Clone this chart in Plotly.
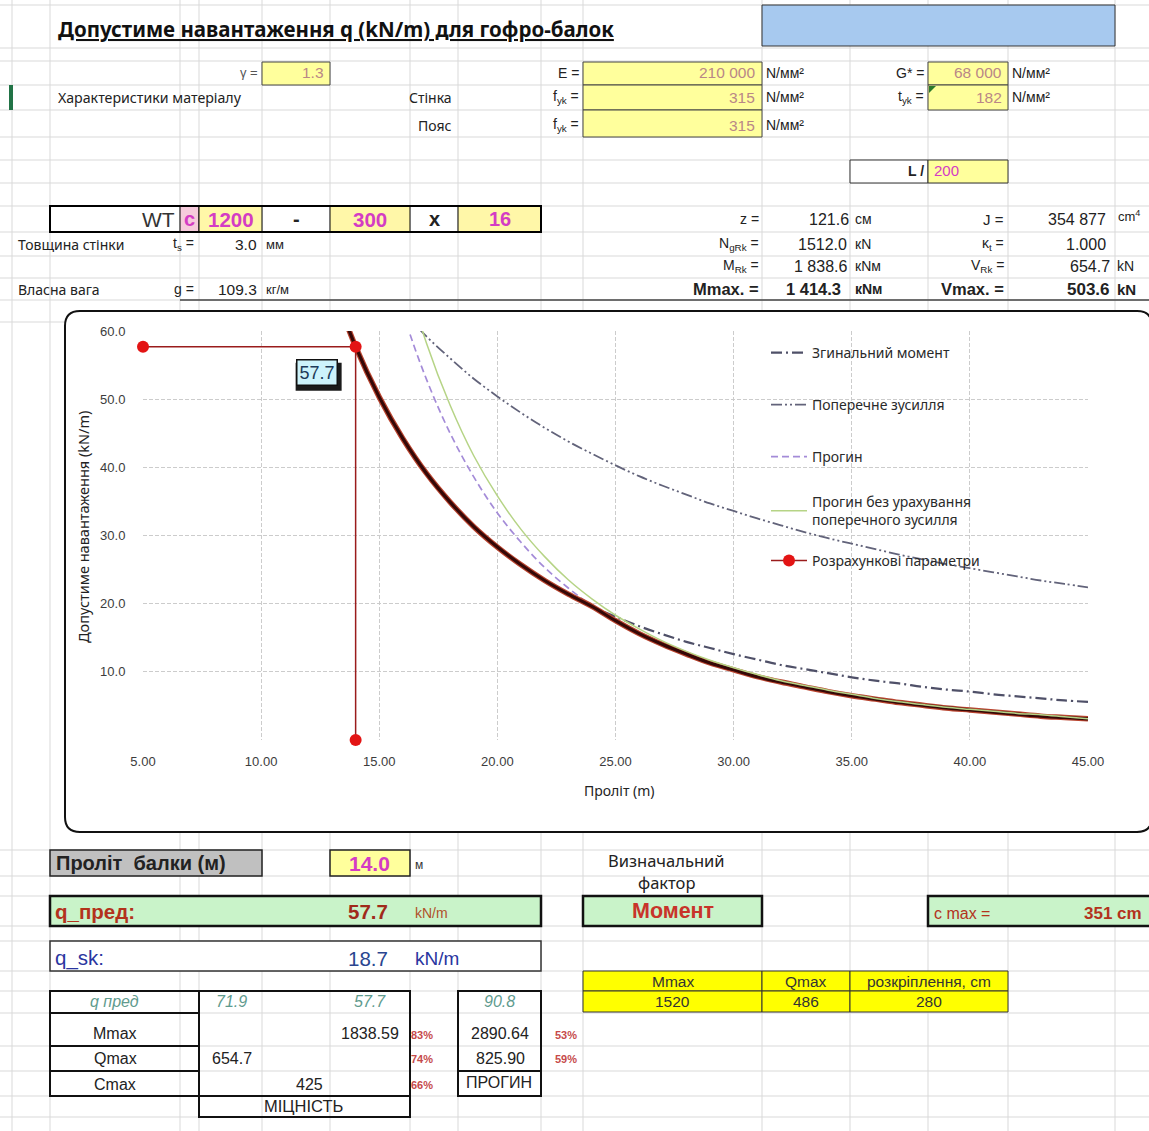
import plotly.graph_objects as go

# ---------------- chart data: permissible load q (kN/m) vs span L (m) ----------------
span_shear = [16, 17, 18, 19, 20, 21, 22, 23, 24, 25, 26, 27, 28, 29, 30,
              31, 32, 33, 34, 35, 36, 37, 38, 39, 40, 41, 42, 43, 44, 45]
q_shear = [62.9, 59.2, 56.0, 53.0, 50.4, 48.0, 45.8, 43.8, 42.0, 40.3, 38.7, 37.3, 36.0, 34.7, 33.6,
           32.5, 31.5, 30.5, 29.6, 28.8, 28.0, 27.2, 26.5, 25.8, 25.2, 24.6, 24.0, 23.4, 22.9, 22.4]

span_moment = [13, 14, 15, 16, 17, 18, 19, 20, 21, 22, 23, 24, 25, 26, 27, 28, 29,
               30, 31, 32, 33, 34, 35, 36, 37, 38, 39, 40, 41, 42, 43, 44, 45]
q_moment = [66.9, 57.7, 50.3, 44.2, 39.1, 34.9, 31.3, 28.3, 25.7, 23.4, 21.4, 19.6, 18.1, 16.7, 15.5, 14.4, 13.5,
            12.6, 11.8, 11.0, 10.4, 9.8, 9.2, 8.7, 8.3, 7.8, 7.4, 7.1, 6.7, 6.4, 6.1, 5.8, 5.6]

span_defl = [15, 16, 17, 18, 19, 20, 21, 22, 23, 24, 25, 26, 27, 28, 29, 30,
             31, 32, 33, 34, 35, 36, 37, 38, 39, 40, 41, 42, 43, 44, 45]
q_defl = [75.0, 62.7, 52.9, 45.0, 38.6, 33.3, 29.0, 25.3, 22.3, 19.7, 17.5, 15.6, 14.0, 12.6, 11.3, 10.3,
          9.3, 8.5, 7.8, 7.1, 6.5, 6.0, 5.5, 5.1, 4.7, 4.4, 4.1, 3.8, 3.5, 3.3, 3.1]

span_defl_b = [16, 17, 18, 19, 20, 21, 22, 23, 24, 25, 26, 27, 28, 29, 30,
               31, 32, 33, 34, 35, 36, 37, 38, 39, 40, 41, 42, 43, 44, 45]
q_defl_b = [69.9, 58.2, 49.1, 41.7, 35.8, 30.9, 26.9, 23.5, 20.7, 18.3, 16.3, 14.5, 13.0, 11.7, 10.6,
            9.6, 8.7, 8.0, 7.3, 6.7, 6.1, 5.6, 5.2, 4.8, 4.5, 4.2, 3.9, 3.7, 3.4, 3.1]

span_env = [13, 14, 15, 16, 17, 18, 19, 20, 21, 22, 23, 24, 25, 26, 27, 28, 29,
            30, 31, 32, 33, 34, 35, 36, 37, 38, 39, 40, 41, 42, 43, 44, 45]
q_env = [66.9, 57.7, 50.3, 44.2, 39.1, 34.9, 31.3, 28.3, 25.7, 23.4, 21.4, 19.6, 17.5, 15.6, 14.0, 12.6, 11.3,
         10.3, 9.3, 8.5, 7.8, 7.1, 6.5, 6.0, 5.5, 5.1, 4.7, 4.4, 4.1, 3.8, 3.5, 3.3, 3.1]

design_span = [5.0, 14.0, 14.0]
design_q = [57.7, 57.7, 0.0]
q_pred = 57.7
beam_span = 14.0

x_ticks = [5, 10, 15, 20, 25, 30, 35, 40, 45]
x_grid = [10, 15, 20, 25, 30, 35, 40, 45]
y_ticks = [10, 20, 30, 40, 50, 60]

legend_names = ["Згинальний момент", "Поперечне зусилля", "Прогин",
                "Прогин без урахування<br>поперечного зусилля", "Розрахункові параметри"]

# ---------------- page geometry helpers (pixel -> paper) ----------------
W, H = 1149, 1131
ARIAL = "Liberation Sans"
CAL = "Noto Sans"


def X(px):
    return px / W


def Y(py):
    return 1 - py / H


shapes = []
annotations = []


def rect(x0, y0, x1, y1, fill=None, line="#000", lw=1.0):
    shapes.append(dict(type="rect", xref="paper", yref="paper", layer="below",
                       x0=X(x0), x1=X(x1), y0=Y(y1), y1=Y(y0),
                       fillcolor=fill or "rgba(0,0,0,0)",
                       line=dict(color=line, width=lw)))


def seg(x0, y0, x1, y1, color="#d6d6d6", lw=1.0):
    shapes.append(dict(type="line", xref="paper", yref="paper", layer="below",
                       x0=X(x0), x1=X(x1), y0=Y(y0), y1=Y(y1),
                       line=dict(color=color, width=lw)))


def txt(x, y, s, size=13, color="#222", anchor="left", family=ARIAL, bold=False, italic=False):
    if bold:
        s = f"<b>{s}</b>"
    if italic:
        s = f"<i>{s}</i>"
    annotations.append(dict(xref="paper", yref="paper", x=X(x), y=Y(y), text=s,
                            showarrow=False, xanchor=anchor, yanchor="middle",
                            borderpad=0, font=dict(size=size, color=color, family=family)))


# ---------------- spreadsheet cell grid ----------------
col_edges = [12, 50, 180, 199, 262, 330, 410, 458, 541, 583, 762, 850, 928, 1008, 1115]
row_edges = [5, 48, 61, 85, 110, 137, 160, 183, 206, 232, 256, 278, 300, 322,
             850, 876, 896, 926, 941, 971, 991, 1013, 1046, 1071, 1096, 1117]
for cx in col_edges:
    seg(cx, 0, cx, H, "#d9d9d9", 1)
for ry in row_edges:
    seg(0, ry, W, ry, "#d9d9d9", 1)

# row-header selection marker
rect(9, 85, 13, 110, fill="#217346", line="#217346", lw=0)

# title and blue header cell
txt(57, 29, "<u>Допустиме навантаження q (kN/m) для гофро-балок</u>", 20.5, "#111", family=CAL, bold=True)
rect(762, 5, 1115, 46, fill="#a7c9ef", line="#333", lw=1)

YEL = "#ffff9c"
VAL = "#b98787"
MAG = "#d43cc4"
VS = 15.5   # value font size in the property block

# material block
txt(259, 73, "γ =", 13, "#555", "right")
rect(262, 62, 330, 85, fill=YEL, line="#444", lw=1)
txt(325, 73, "1.3", VS, VAL, "right")

txt(57, 97, "Характеристики матеріалу", 14.2, "#222", family=CAL)
txt(453, 97, "Стінка", 14, "#222", "right", family=CAL)
txt(453, 125, "Пояс", 14, "#222", "right", family=CAL)

for yc, y0, y1, lab, val in [(73, 62, 85, "E =", "210 000"),
                             (97, 85, 110, "f<sub>yk</sub> =", "315"),
                             (125, 110, 137, "f<sub>yk</sub> =", "315")]:
    txt(580, yc, lab, 14, "#222", "right")
    rect(583, y0, 762, y1, fill=YEL, line="#444", lw=1)
    txt(756, yc, val, VS, VAL, "right")
    txt(765, yc, "N/мм²", 14, "#222")

for yc, y0, y1, lab, val in [(73, 62, 85, "G* =", "68 000"),
                             (97, 85, 110, "t<sub>yk</sub> =", "182")]:
    txt(925, yc, lab, 14, "#222", "right")
    rect(928, y0, 1008, y1, fill=YEL, line="#444", lw=1)
    txt(1003, yc, val, VS, VAL, "right")
    txt(1011, yc, "N/мм²", 14, "#222")
shapes.append(dict(type="path", xref="paper", yref="paper", layer="below",
                   path=f"M{X(929)},{Y(86)} L{X(936)},{Y(86)} L{X(929)},{Y(93)} Z",
                   fillcolor="#2a7a2a", line=dict(width=0)))

rect(850, 160, 928, 183, fill="white", line="#333", lw=1)
txt(925, 171, "L /", 14, "#222", "right", bold=True)
rect(928, 160, 1008, 183, fill=YEL, line="#333", lw=1)
txt(933, 171, "200", 15, MAG)

# section designation row
rect(180, 206, 199, 232, fill="#f6cbdc", line="#000", lw=1)
rect(199, 206, 262, 232, fill="#fff7a8", line="#000", lw=1)
rect(330, 206, 410, 232, fill="#fff7a8", line="#000", lw=1)
rect(458, 206, 541, 232, fill="#fff7a8", line="#000", lw=1)
rect(50, 206, 541, 232, line="#000", lw=2)
txt(176, 219, "WT", 21, "#333", "right")
txt(189, 219, "c", 20, MAG, "center", bold=True)
txt(231, 219, "1200", 20.5, MAG, "center", bold=True)
txt(296, 219, "-", 20, "#222", "center", bold=True)
txt(370, 219, "300", 20.5, MAG, "center", bold=True)
txt(434, 219, "x", 20, "#222", "center", bold=True)
txt(500, 219, "16", 20, MAG, "center", bold=True)

txt(17, 244, "Товщина стінки", 14, "#222", family=CAL)
txt(195, 244, "t<sub>s</sub> =", 14, "#222", "right")
txt(258, 244, "3.0", VS, "#222", "right")
txt(265, 244, "мм", 13, "#222")
txt(17, 289, "Власна вага", 14, "#222", family=CAL)
txt(195, 289, "g =", 14, "#222", "right")
txt(258, 289, "109.3", VS, "#222", "right")
txt(265, 289, "кг/м", 13, "#222")
seg(180, 300, 1149, 300, "#444", 1.5)

# section properties
txt(760, 219, "z =", 14, "#222", "right")
txt(850, 219, "121.6", 16, "#222", "right")
txt(854, 219, "см", 14, "#222")
txt(1005, 219, "J =", 15, "#222", "right")
txt(1107, 219, "354 877", 16, "#222", "right")
txt(1117, 216, "cm<sup>4</sup>", 13, "#222")
txt(760, 244, "N<sub>gRk</sub> =", 14, "#222", "right")
txt(848, 244, "1512.0", 16, "#222", "right")
txt(854, 244, "кN", 14, "#222")
txt(1005, 244, "κ<sub>t</sub> =", 14, "#222", "right")
txt(1107, 244, "1.000", 16, "#222", "right")
txt(760, 266, "M<sub>Rk</sub> =", 14, "#222", "right")
txt(848, 266, "1 838.6", 16, "#222", "right")
txt(854, 266, "кNм", 14, "#222")
txt(1005, 266, "V<sub>Rk</sub> =", 14, "#222", "right")
txt(1111, 266, "654.7", 16, "#222", "right")
txt(1116, 266, "kN", 14, "#222")
txt(760, 289, "Mmax. =", 16.5, "#222", "right", bold=True)
txt(842, 289, "1 414.3", 16.5, "#222", "right", bold=True)
txt(854, 289, "кNм", 14, "#222", bold=True)
txt(1005, 289, "Vmax. =", 16.5, "#222", "right", bold=True)
txt(1111, 289, "503.6", 17, "#222", "right", bold=True)
txt(1116, 289, "kN", 15, "#222", bold=True)

# ---------------- chart frame ----------------
def P(x, y):
    return f"{X(x):.5f},{Y(y):.5f}"


frame = (f"M{P(80, 311)} L{P(1137, 311)} Q{P(1152, 311)} {P(1152, 326)} L{P(1152, 817)} "
         f"Q{P(1152, 832)} {P(1137, 832)} L{P(80, 832)} Q{P(65, 832)} {P(65, 817)} "
         f"L{P(65, 326)} Q{P(65, 311)} {P(80, 311)} Z")
shapes.append(dict(type="path", xref="paper", yref="paper", layer="below", path=frame,
                   fillcolor="white", line=dict(color="#111", width=2)))

# ---------------- lower result block ----------------
rect(50, 850, 262, 876, fill="#c0c0c0", line="#222", lw=1.5)
txt(55, 863, "Проліт  балки (м)", 20, "#222", bold=True)
rect(330, 850, 410, 876, fill=YEL, line="#222", lw=1.5)
txt(369, 863, f"{beam_span:.1f}", 21, MAG, "center", bold=True)
txt(414, 865, "м", 12, "#333")

txt(666, 860, "Визначальний", 16.5, "#222", "center", family=CAL)
txt(666, 882, "фактор", 16.5, "#222", "center", family=CAL)

GREEN = "#c9f3c9"
rect(50, 896, 541, 926, fill=GREEN, line="#111", lw=2.5)
txt(54, 911, "q_пред:", 20.5, "#b3321c", bold=True)
txt(389, 911, f"{q_pred:.1f}", 20.5, "#a02a1a", "right", bold=True)
txt(414, 913, "kN/m", 14, "#b0502a")
rect(583, 896, 762, 926, fill=GREEN, line="#111", lw=2.5)
txt(673, 911, "Момент", 21.5, "#c8342a", "center", bold=True)
rect(928, 896, 1160, 926, fill=GREEN, line="#111", lw=2.5)
txt(933, 913, "c max =", 16, "#b3321c")
txt(1143, 913, "351 cm", 17, "#b3321c", "right", bold=True)

rect(50, 941, 541, 971, fill="white", line="#333", lw=1.5)
txt(54, 958, "q_sk:", 20.5, "#2a36a0")
txt(389, 958, "18.7", 20.5, "#2a4690", "right")
txt(414, 958, "kN/m", 19, "#2a36a0")

# reinforcement table
for x0, x1, head, val in [(583, 762, "Mmax", "1520"), (762, 850, "Qmax", "486"),
                          (850, 1008, "розкріплення, cm", "280")]:
    rect(x0, 971, x1, 991, fill="#ffff00", line="#333", lw=1)
    rect(x0, 991, x1, 1012, fill="#ffff00", line="#333", lw=1)
    txt((x0 + x1) / 2, 981, head, 15.5, "#333", "center")
    txt((x0 + x1) / 2, 1001, val, 15.5, "#333", "center")

# strength / deflection table
rect(50, 991, 199, 1096, line="#111", lw=2)
for ry in (1013, 1046, 1071):
    seg(50, ry, 199, ry, "#111", 2)
rect(199, 991, 410, 1096, line="#111", lw=2)
rect(199, 1096, 410, 1117, line="#111", lw=2)
rect(458, 991, 541, 1096, line="#111", lw=2)
seg(458, 1071, 541, 1071, "#111", 2)

TEAL = "#5f9b8e"
TS = 16
txt(114, 1001, "q пред", TS, TEAL, "center", italic=True)
txt(231, 1001, "71.9", TS, TEAL, "center", italic=True)
txt(370, 1001, "57.7", TS, TEAL, "center", italic=True)
txt(499, 1001, "90.8", TS, TEAL, "center", italic=True)
txt(115, 1033, "Mmax", TS, "#222", "center")
txt(115, 1058, "Qmax", TS, "#222", "center")
txt(115, 1084, "Cmax", TS, "#222", "center")
txt(400, 1033, "1838.59", TS, "#222", "right")
txt(232, 1058, "654.7", TS, "#222", "center")
txt(309, 1084, "425", TS, "#222", "center")
txt(303, 1106, "МІЦНІСТЬ", 16.5, "#222", "center")
txt(500, 1033, "2890.64", TS, "#222", "center")
txt(500, 1058, "825.90", TS, "#222", "center")
txt(499, 1082, "ПРОГИН", TS, "#222", "center")
PCT = "#c64a4a"
for xx, yy, s in [(422, 1035, "83%"), (422, 1059, "74%"), (422, 1085, "66%"),
                  (566, 1035, "53%"), (566, 1059, "59%")]:
    txt(xx, yy, s, 11, PCT, "center", bold=True)

# ---------------- chart traces ----------------
fig = go.Figure()

fig.add_trace(go.Scatter(x=span_moment, y=q_moment, mode="lines", line_shape="spline",
                         name=legend_names[0], legend="legend",
                         line=dict(color="#4f5068", width=2.2, dash="11px,4px,2px,4px")))
fig.add_trace(go.Scatter(x=span_shear, y=q_shear, mode="lines", line_shape="spline",
                         name=legend_names[1], legend="legend2",
                         line=dict(color="#62637a", width=1.8, dash="11px,3px,2px,3px,2px,3px")))
fig.add_trace(go.Scatter(x=span_defl, y=q_defl, mode="lines", line_shape="spline",
                         name=legend_names[2], legend="legend3",
                         line=dict(color="#a48bd8", width=1.7, dash="7px,4px")))
# governing envelope (minimum of all criteria)
fig.add_trace(go.Scatter(x=span_env, y=q_env, mode="lines", line_shape="spline", showlegend=False,
                         hoverinfo="skip", line=dict(color="#b8432e", width=5.5)))
fig.add_trace(go.Scatter(x=span_env, y=q_env, mode="lines", line_shape="spline", showlegend=False,
                         line=dict(color="#350807", width=3.2)))
fig.add_trace(go.Scatter(x=span_defl_b, y=q_defl_b, mode="lines", line_shape="spline",
                         name=legend_names[3], legend="legend4",
                         line=dict(color="#b6d486", width=1.5)))
fig.add_trace(go.Scatter(x=design_span, y=design_q, mode="lines+markers", cliponaxis=False,
                         name=legend_names[4], legend="legend5",
                         line=dict(color="#9a1c1c", width=1.5),
                         marker=dict(color="#e31414", size=12)))
# overlay axis carrying the vertical grid
fig.add_trace(go.Scatter(x=[10], y=[10], xaxis="x2", mode="markers", showlegend=False,
                         marker=dict(opacity=0), hoverinfo="skip"))

# value label for the design point, with a drop shadow behind it
shapes.append(dict(type="rect", xref="x", yref="y", layer="above",
                   xsizemode="pixel", ysizemode="pixel",
                   xanchor=design_span[1], yanchor=design_q[1],
                   x0=-60, x1=-14, y0=-44, y1=-16,
                   fillcolor="#1b1b1b", line=dict(width=0)))
annotations.append(dict(x=design_span[1], y=design_q[1], xref="x", yref="y", text=f"{q_pred:.1f}",
                        showarrow=False, xanchor="right", yanchor="top", xshift=-18, yshift=-12,
                        bgcolor="#cdf3fb", bordercolor="#111", borderwidth=1.5, borderpad=2,
                        font=dict(family=ARIAL, size=18, color="#1c3a58")))

# axis titles
annotations.append(dict(xref="paper", yref="paper", x=X(83), y=Y(527), text="Допустиме навантаження (kN/m)",
                        textangle=-90, showarrow=False, xanchor="center", yanchor="middle",
                        font=dict(family=CAL, size=14.5, color="#222")))
annotations.append(dict(xref="paper", yref="paper", x=X(619), y=Y(790), text="Проліт (m)",
                        showarrow=False, xanchor="center", yanchor="middle",
                        font=dict(family=CAL, size=14, color="#222")))

tickfont = dict(family=ARIAL, size=13, color="#3c3c3c")
grid = dict(gridcolor="#cccccc", gridwidth=1, griddash="4px,2px")

leg_font = dict(family=CAL, size=14, color="#2a2a2a")
leg_centers = [353, 405, 457, 511, 561]
legends = {}
for i, yc in enumerate(leg_centers):
    key = "legend" if i == 0 else f"legend{i + 1}"
    legends[key] = dict(x=X(766), y=Y(yc), xanchor="left", yanchor="middle",
                        bgcolor="rgba(0,0,0,0)", font=leg_font, itemwidth=36)

fig.update_layout(
    width=W, height=H, autosize=False, margin=dict(l=0, r=0, t=0, b=0, pad=0, autoexpand=False),
    paper_bgcolor="white", plot_bgcolor="rgba(0,0,0,0)",
    showlegend=True, shapes=shapes, annotations=annotations,
    xaxis=dict(domain=[X(143), X(1088)], range=[5, 45], tickvals=x_ticks, automargin=False,
               ticktext=[f"{v:.2f}" for v in x_ticks], showgrid=False, zeroline=False,
               showline=False, ticks="outside", ticklen=9, tickcolor="rgba(0,0,0,0)",
               tickfont=tickfont, fixedrange=True),
    xaxis2=dict(domain=[X(143), X(1088)], range=[5, 45], overlaying="x", anchor="y",
                automargin=False, tickvals=x_grid, showticklabels=False, showgrid=True,
                zeroline=False, showline=False, ticks="", fixedrange=True, **grid),
    yaxis=dict(domain=[Y(740), Y(331)], range=[0, 60], tickvals=y_ticks, automargin=False,
               tickformat=".1f", showgrid=True, zeroline=False, showline=False,
               ticks="outside", ticklen=14, tickcolor="rgba(0,0,0,0)",
               tickfont=tickfont, fixedrange=True, **grid),
    **legends,
)

fig.write_html("out.html", config={"responsive": False, "displayModeBar": False})
